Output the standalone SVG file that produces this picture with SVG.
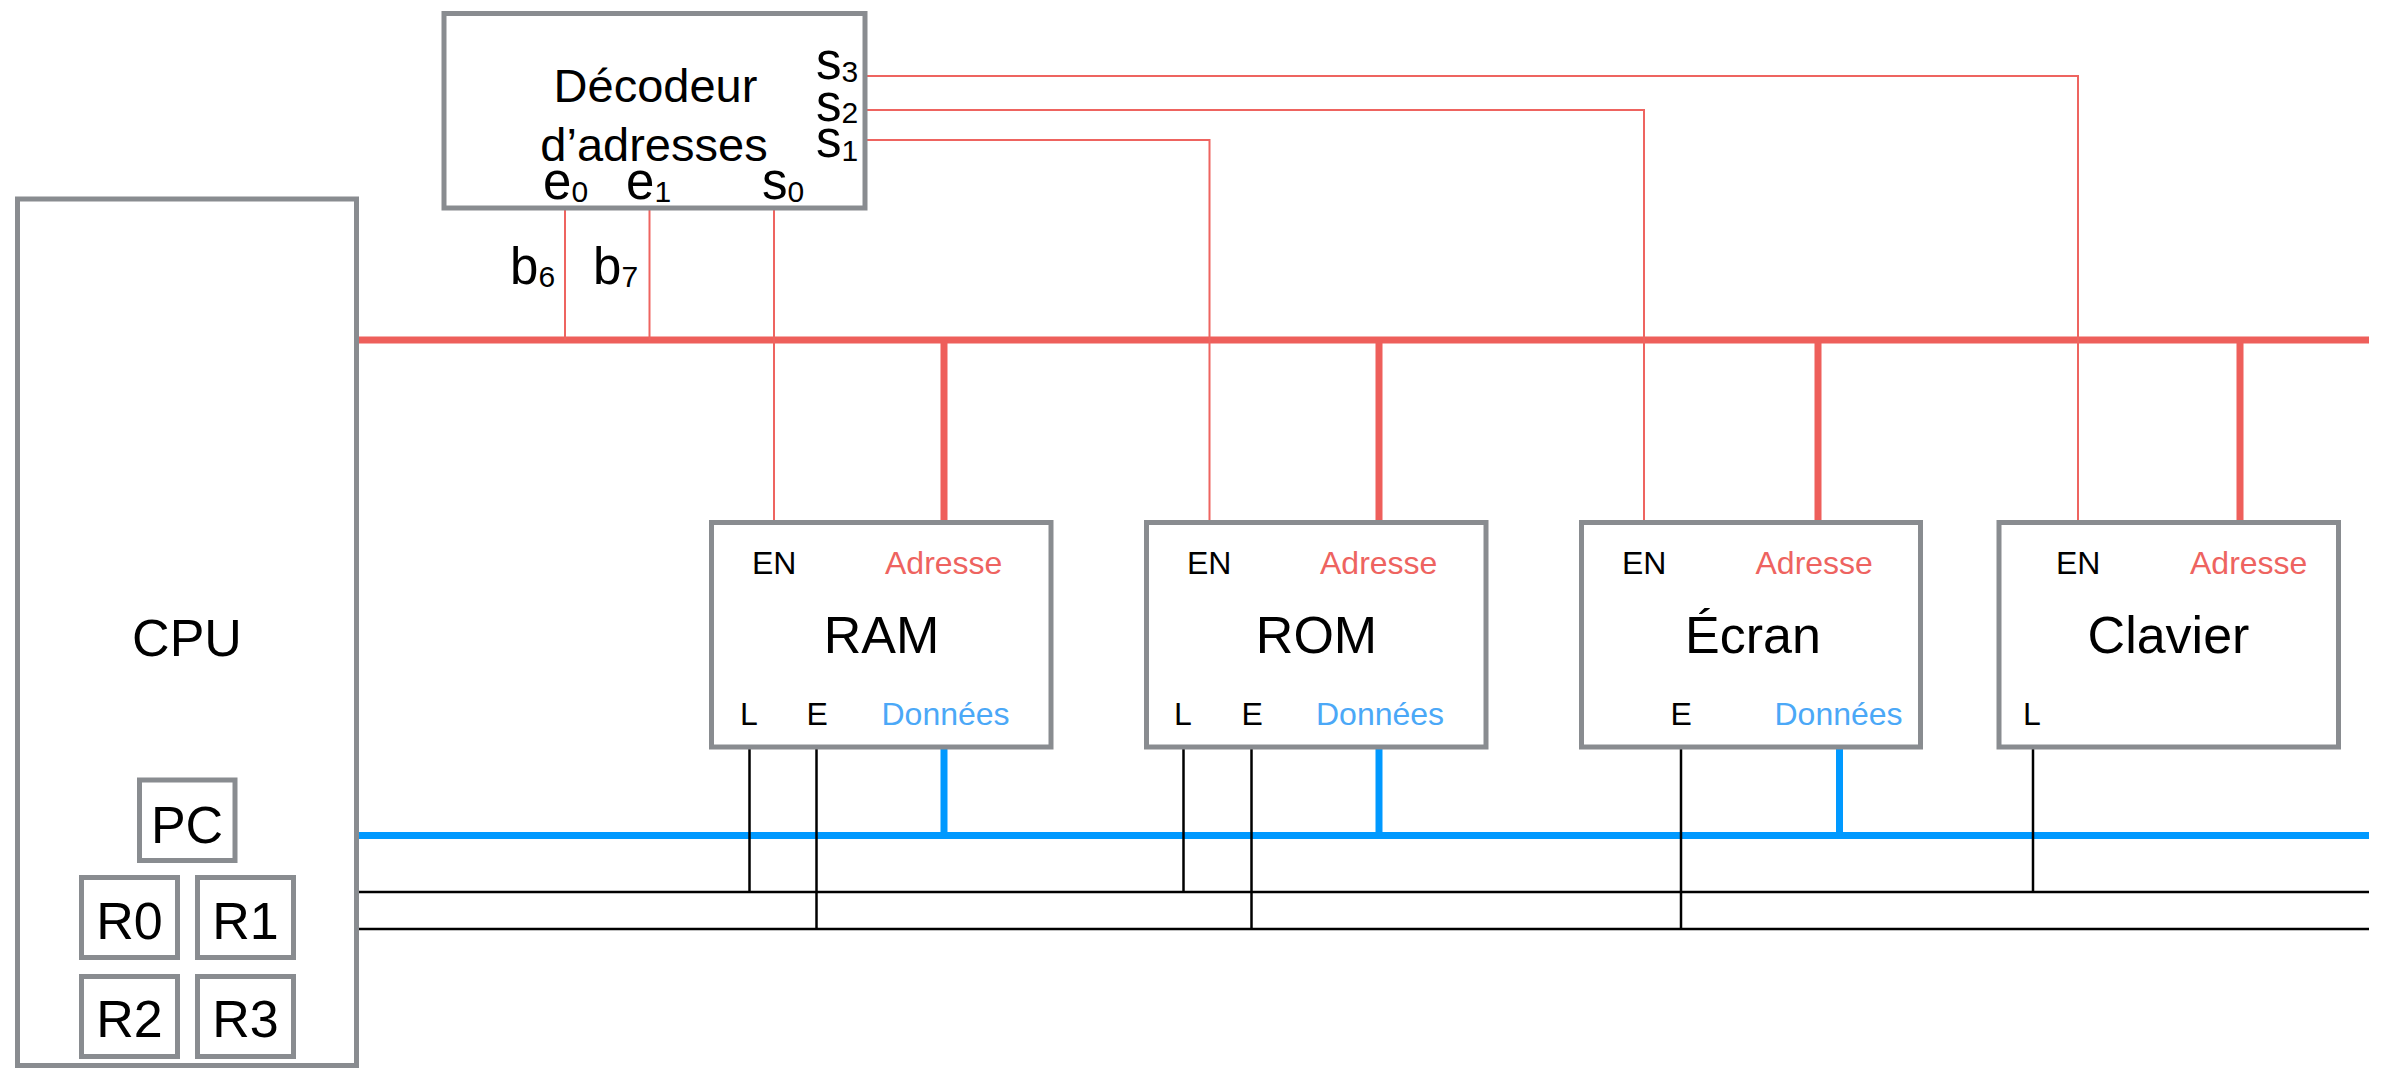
<svg xmlns="http://www.w3.org/2000/svg" width="2383" height="1069" viewBox="0 0 2383 1069">
<style>
  text { font-family: "Liberation Sans", Arial, sans-serif; fill: #000; }
  .box { fill: #fff; stroke: #898c90; stroke-width: 5; }
  .big { font-size: 52px; text-anchor: middle; }
  .lbl { font-size: 32px; }
  .adr { fill: #ee6360; }
  .don { fill: #4ba8f7; }
  .dec { font-size: 47px; text-anchor: middle; }
  .pin { font-size: 51px; }
  .sub { font-size: 30px; }
  .thin { stroke: #ee6460; stroke-width: 2; fill: none; }
  .abus { stroke: #ee5f5b; stroke-width: 7; fill: none; }
  .dbus { stroke: #0099ff; stroke-width: 7; fill: none; }
  .ctl { stroke: #000; stroke-width: 2.5; fill: none; }
</style>
<g id="connectors">
  <!-- address bus -->
  <line class="abus" x1="359" y1="340" x2="2369" y2="340"/>
  <line class="abus" x1="944" y1="340" x2="944" y2="522"/>
  <line class="abus" x1="1379" y1="340" x2="1379" y2="522"/>
  <line class="abus" x1="1818" y1="340" x2="1818" y2="522"/>
  <line class="abus" x1="2240" y1="340" x2="2240" y2="522"/>
  <!-- decoder inputs -->
  <line class="thin" x1="565" y1="210" x2="565" y2="340"/>
  <line class="thin" x1="649.5" y1="210" x2="649.5" y2="340"/>
  <!-- decoder outputs -->
  <polyline class="thin" points="774,210 774,522"/>
  <polyline class="thin" points="867,140 1209.5,140 1209.5,522"/>
  <polyline class="thin" points="867,110 1644,110 1644,522"/>
  <polyline class="thin" points="867,76 2078,76 2078,522"/>
  <!-- data bus -->
  <line class="dbus" x1="359" y1="835.5" x2="2369" y2="835.5"/>
  <line class="dbus" x1="944" y1="747" x2="944" y2="835.5"/>
  <line class="dbus" x1="1379" y1="747" x2="1379" y2="835.5"/>
  <line class="dbus" x1="1839.5" y1="747" x2="1839.5" y2="835.5"/>
  <!-- control lines -->
  <line class="ctl" x1="359" y1="892" x2="2369" y2="892"/>
  <line class="ctl" x1="359" y1="929" x2="2369" y2="929"/>
  <line class="ctl" x1="749.5" y1="747" x2="749.5" y2="892"/>
  <line class="ctl" x1="1183.5" y1="747" x2="1183.5" y2="892"/>
  <line class="ctl" x1="2033" y1="747" x2="2033" y2="892"/>
  <line class="ctl" x1="816.5" y1="747" x2="816.5" y2="929"/>
  <line class="ctl" x1="1251.5" y1="747" x2="1251.5" y2="929"/>
  <line class="ctl" x1="1681" y1="747" x2="1681" y2="929"/>
</g>
<g id="labels">
  <text class="pin" x="510" y="284">b<tspan class="sub" dy="3">6</tspan></text>
  <text class="pin" x="593" y="284">b<tspan class="sub" dy="3">7</tspan></text>
</g>
<g id="cpu">
  <rect class="box" x="17.5" y="199" width="339" height="866.5"/>
  <text class="big" x="187" y="656">CPU</text>
</g>
<g id="pc">
  <rect class="box" x="139.5" y="780" width="95.5" height="80.5"/>
  <text class="big" x="187" y="843">PC</text>
</g>
<g id="r0">
  <rect class="box" x="81.5" y="877.5" width="96" height="80"/>
  <text class="big" x="129.5" y="939">R0</text>
</g>
<g id="r1">
  <rect class="box" x="197.5" y="877.5" width="96" height="80"/>
  <text class="big" x="245.5" y="939">R1</text>
</g>
<g id="r2">
  <rect class="box" x="81.5" y="976.5" width="96" height="80"/>
  <text class="big" x="129.5" y="1037">R2</text>
</g>
<g id="r3">
  <rect class="box" x="197.5" y="976.5" width="96" height="80"/>
  <text class="big" x="245.5" y="1037">R3</text>
</g>
<g id="decodeur">
  <rect class="box" x="444" y="13.5" width="421" height="194.5"/>
  <text class="dec" x="655.5" y="101.5">Décodeur</text>
  <text class="dec" x="654" y="161">d’adresses</text>
  <text class="pin" x="816" y="79">s<tspan class="sub" dy="3">3</tspan></text>
  <text class="pin" x="816" y="121">s<tspan class="sub" dy="2">2</tspan></text>
  <text class="pin" x="816" y="157">s<tspan class="sub" dy="4">1</tspan></text>
  <text class="pin" x="543" y="199">e<tspan class="sub" dy="3">0</tspan></text>
  <text class="pin" x="626" y="199">e<tspan class="sub" dy="3">1</tspan></text>
  <text class="pin" x="762" y="199">s<tspan class="sub" dy="3">0</tspan></text>
</g>
<g id="ram">
  <rect class="box" x="711.5" y="522.5" width="339.5" height="224.5"/>
  <text class="lbl" x="752" y="574">EN</text>
  <text class="lbl adr" x="885" y="574">Adresse</text>
  <text class="big" x="881.5" y="653">RAM</text>
  <text class="lbl" x="740" y="725">L</text>
  <text class="lbl" x="806.5" y="725">E</text>
  <text class="lbl don" x="881.5" y="725">Données</text>
</g>
<g id="rom">
  <rect class="box" x="1146.5" y="522.5" width="339.5" height="224.5"/>
  <text class="lbl" x="1187" y="574">EN</text>
  <text class="lbl adr" x="1320" y="574">Adresse</text>
  <text class="big" x="1316.5" y="653">ROM</text>
  <text class="lbl" x="1174" y="725">L</text>
  <text class="lbl" x="1241.5" y="725">E</text>
  <text class="lbl don" x="1316" y="725">Données</text>
</g>
<g id="ecran">
  <rect class="box" x="1581.5" y="522.5" width="339" height="224.5"/>
  <text class="lbl" x="1622" y="574">EN</text>
  <text class="lbl adr" x="1755.5" y="574">Adresse</text>
  <text class="big" x="1753" y="653">Écran</text>
  <text class="lbl" x="1670.5" y="725">E</text>
  <text class="lbl don" x="1774.5" y="725">Données</text>
</g>
<g id="clavier">
  <rect class="box" x="1999" y="522.5" width="339.5" height="224.5"/>
  <text class="lbl" x="2056" y="574">EN</text>
  <text class="lbl adr" x="2190" y="574">Adresse</text>
  <text class="big" x="2168.5" y="653">Clavier</text>
  <text class="lbl" x="2023" y="725">L</text>
</g>
</svg>
